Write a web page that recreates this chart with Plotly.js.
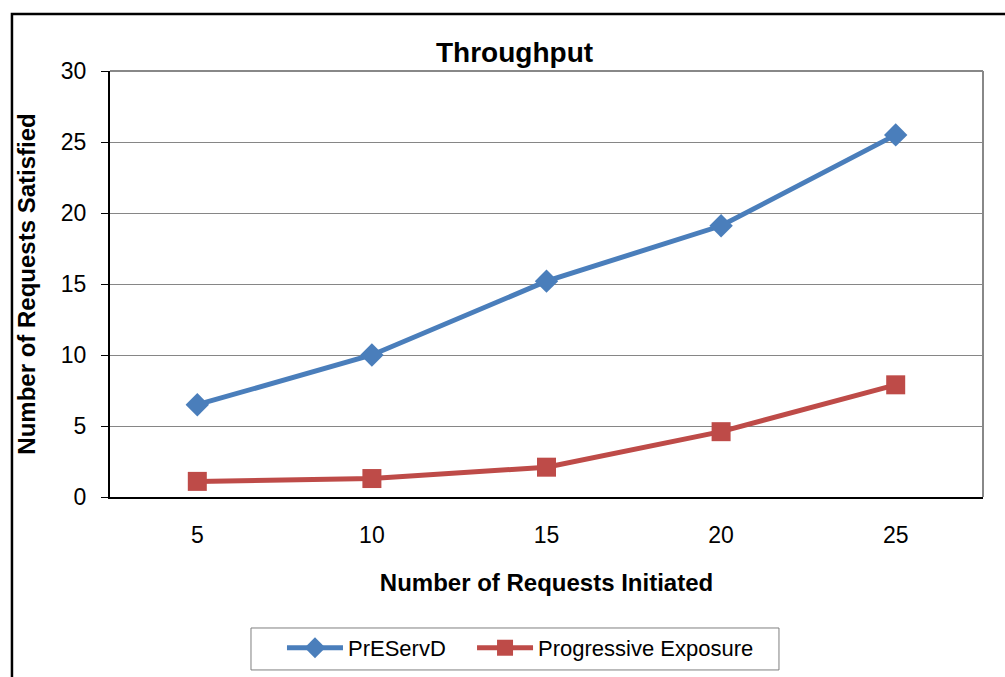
<!DOCTYPE html>
<html>
<head>
<meta charset="utf-8">
<script src="https://cdn.plot.ly/plotly-3.0.1.min.js"></script>
<style>html,body{margin:0;padding:0;background:#fff;}#chart{width:1005px;height:677px;}</style>
</head>
<body>
<div id="chart"></div>
<script>
const categories = ["5", "10", "15", "20", "25"];
const preservd = [6.5, 10, 15.2, 19.1, 25.5];
const progressive = [1.1, 1.3, 2.1, 4.6, 7.9];
const yTicks = [0, 5, 10, 15, 20, 25, 30];

const font = "Liberation Sans, Arial, sans-serif";

const traces = [
  {
    x: categories, y: preservd, name: "PrEServD", type: "scatter", mode: "lines+markers",
    line: {color: "#4A7EBB", width: 5},
    marker: {symbol: "diamond", size: 18, color: "#4A7EBB"},
    legend: "legend"
  },
  {
    x: categories, y: progressive, name: "Progressive Exposure", type: "scatter", mode: "lines+markers",
    line: {color: "#BE4B48", width: 5},
    marker: {symbol: "square", size: 19, color: "#BE4B48"},
    legend: "legend2"
  }
];

const legendCommon = {
  orientation: "h", xanchor: "left", y: -0.305, yanchor: "top",
  borderwidth: 0, bgcolor: "rgba(0,0,0,0)", font: {size: 22, family: font},
  itemwidth: 56
};

const layout = {
  width: 1005, height: 677,
  margin: {l: 110, r: 22, t: 71, b: 180, autoexpand: false},
  paper_bgcolor: "#fff", plot_bgcolor: "#fff",
  font: {family: font, color: "#000", size: 23},
  title: {text: "<b>Throughput</b>", font: {size: 28, family: font}, x: 0.512, xanchor: "center", y: 0.923, yanchor: "middle", xref: "container", yref: "container"},
  showlegend: true,
  legend: Object.assign({}, legendCommon, {x: 0.197}),
  legend2: Object.assign({}, legendCommon, {x: 0.4147}),
  xaxis: {
    type: "category", range: [-0.5, 4.5], showgrid: false, zeroline: false, automargin: false,
    showline: true, linecolor: "#000", linewidth: 2, ticks: "", ticklabelstandoff: 16,
    tickfont: {size: 23},
    title: {text: "<b>Number of Requests Initiated</b>", font: {size: 24}, standoff: 28},
    fixedrange: true
  },
  yaxis: {
    range: [0, 30], tickvals: yTicks, ticktext: yTicks.map(String), automargin: false,
    showgrid: true, gridcolor: "#868686", gridwidth: 1, zeroline: false,
    showline: true, linecolor: "#000", linewidth: 2, ticks: "outside", ticklen: 7, tickcolor: "#000",
    ticklabelstandoff: 10, tickfont: {size: 23},
    title: {text: "<b>Number of Requests Satisfied</b>", font: {size: 24}, standoff: 18},
    fixedrange: true
  },
  shapes: [
    {type: "line", xref: "paper", yref: "paper", x0: 0, x1: 1, y0: 1, y1: 1, line: {color: "#888", width: 2}},
    {type: "line", xref: "paper", yref: "paper", x0: 1, x1: 1, y0: 0, y1: 1, line: {color: "#888", width: 2}},
    {type: "rect", xref: "paper", yref: "paper", x0: 0.1615, x1: 0.7663, y0: -0.406, y1: -0.3075, line: {color: "#7f7f7f", width: 1}},
    {type: "rect", xref: "paper", yref: "paper", x0: -0.1123, x1: 1.2, y0: -0.6, y1: 1.1338, line: {color: "#000", width: 2.5}}
  ]
};

Plotly.newPlot("chart", traces, layout, {displayModeBar: false, staticPlot: true});
</script>
</body>
</html>
